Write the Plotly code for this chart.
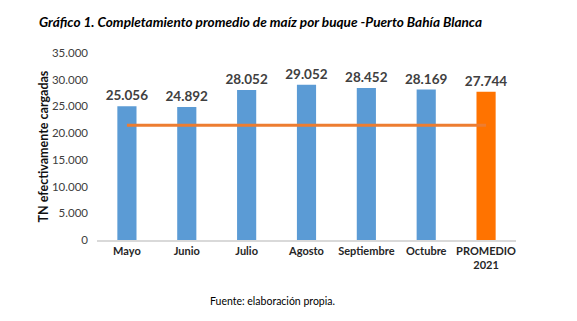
import plotly.graph_objects as go

# Monthly average corn load per vessel (tonnes)
categories = ["Mayo", "Junio", "Julio", "Agosto", "Septiembre", "Octubre", "PROMEDIO<br>2021"]
values = [25056, 24892, 28052, 29052, 28452, 28169, 27744]
reference_level = [21500] * len(categories)
tick_vals = [0, 5000, 10000, 15000, 20000, 25000, 30000, 35000]
tick_text = ["0", "5.000", "10.000", "15.000", "20.000", "25.000", "30.000", "35.000"]

bar_colors = ["#5B9BD5"] * (len(categories) - 1) + ["#FF7300"]
value_labels = [f"{v:,}".replace(",", ".") for v in values]

FONT = "Lato, 'Open Sans', sans-serif"

fig = go.Figure()
fig.add_trace(go.Bar(
    x=categories, y=values,
    marker=dict(color=bar_colors, line=dict(width=0)),
    width=0.32,
    text=value_labels, textposition="outside", constraintext="none",
    textfont=dict(family=FONT, size=13.5, color="#404040", weight="bold"),
    cliponaxis=False,
))
fig.add_trace(go.Scatter(
    x=categories, y=reference_level, mode="lines",
    line=dict(color="#ED7D31", width=3),
))

fig.update_layout(
    width=577, height=321,
    margin=dict(l=97, r=61, t=53, b=81),
    paper_bgcolor="white", plot_bgcolor="white",
    showlegend=False,
    font=dict(family=FONT, color="#404040"),
    xaxis=dict(
        showline=True, linecolor="#D9D9D9", linewidth=1.5,
        tickfont=dict(family=FONT, size=11, color="#262626", weight="bold"),
        ticks="", showgrid=False,
    ),
    yaxis=dict(
        range=[0, 35000], tickvals=tick_vals, ticktext=tick_text,
        tickfont=dict(family=FONT, size=11.5, color="#404040"),
        showgrid=False, zeroline=False, showline=False, ticks="",
        ticklabelstandoff=8,
    ),
    annotations=[
        dict(text="<b><i>Gráfico 1. Completamiento promedio de maíz por buque -Puerto Bahía Blanca</i></b>",
             xref="paper", yref="paper", x=-0.143, y=1.0, yanchor="bottom", xanchor="left",
             yshift=21, showarrow=False,
             font=dict(family=FONT, size=13.6, color="#000000")),
        dict(text="<b>TN efectivamente cargadas</b>",
             xref="paper", yref="paper", x=0, y=0.5, xanchor="center", yanchor="middle",
             xshift=-54, textangle=-90, showarrow=False,
             font=dict(family=FONT, size=12.5, color="#111111")),
        dict(text="Fuente: elaboración propia.",
             xref="paper", yref="paper", x=0.42, y=0, yanchor="middle", xanchor="center",
             yshift=-61, showarrow=False,
             font=dict(family=FONT, size=10.5, color="#000000")),
    ],
)

fig.write_html("out.html")
